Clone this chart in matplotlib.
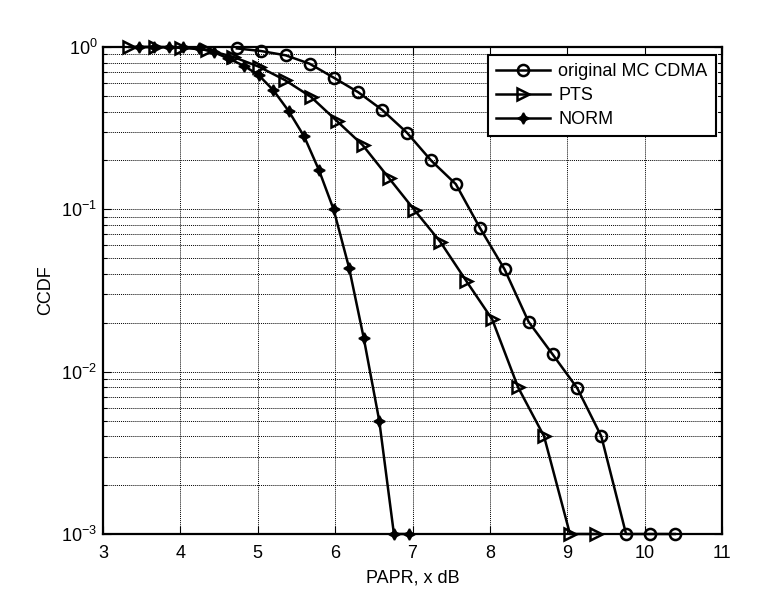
import numpy as np
import matplotlib.pyplot as plt
from matplotlib.ticker import FixedLocator, NullFormatter, LogLocator

plt.rcParams['font.family'] = ['Liberation Sans', 'DejaVu Sans']
plt.rcParams['mathtext.fontset'] = 'custom'
plt.rcParams['mathtext.rm'] = 'Liberation Sans'
plt.rcParams['mathtext.it'] = 'Liberation Sans'

# original MC CDMA
papr_orig = [4.73, 5.04, 5.36, 5.67, 5.99, 6.30, 6.61, 6.93, 7.24, 7.56,
             7.87, 8.19, 8.50, 8.81, 9.13, 9.44, 9.76, 10.07, 10.39]
ccdf_orig = [0.98, 0.945, 0.889, 0.789, 0.644, 0.526, 0.409, 0.296, 0.200, 0.143,
             0.077, 0.0427, 0.0203, 0.0128, 0.0079, 0.0040, 0.001, 0.001, 0.001]

# PTS
papr_pts = [3.34, 3.675, 4.01, 4.345, 4.68, 5.015, 5.35, 5.685, 6.02, 6.355,
            6.69, 7.025, 7.36, 7.695, 8.03, 8.365, 8.70, 9.035, 9.37]
ccdf_pts = [1.0, 1.0, 0.99, 0.96, 0.87, 0.756, 0.626, 0.494, 0.351, 0.249,
            0.157, 0.099, 0.063, 0.0362, 0.021, 0.008, 0.004, 0.001, 0.001]

# NORM
papr_norm = [3.46, 3.66, 3.85, 4.04, 4.24, 4.43, 4.62, 4.82, 5.01, 5.20,
             5.40, 5.60, 5.79, 5.98, 6.18, 6.37, 6.57, 6.76, 6.95]
ccdf_norm = [1.0, 1.0, 1.0, 0.995, 0.98, 0.93, 0.85, 0.767, 0.672, 0.543,
             0.403, 0.281, 0.175, 0.100, 0.0437, 0.0161, 0.00499, 0.001, 0.001]

x_ticks = [3, 4, 5, 6, 7, 8, 9, 10, 11]
y_ticks = [1e-3, 1e-2, 1e-1, 1e0]
y_tick_labels = ['$10^{-3}$', '$10^{-2}$', '$10^{-1}$', '$10^{0}$']

fig = plt.figure(figsize=(7.64, 6.06), dpi=100)
ax = fig.add_axes([103 / 764, 1 - 534 / 606, 619 / 764, 487 / 606])

ax.semilogy(papr_orig, ccdf_orig, '-o', color='black', lw=1.8, ms=8,
            mfc='none', mew=1.8, label='original MC CDMA', clip_on=False, zorder=3)
ax.semilogy(papr_pts, ccdf_pts, '->', color='black', lw=1.8, ms=9,
            mfc='none', mew=1.8, label='PTS', clip_on=False, zorder=3)
ax.semilogy(papr_norm, ccdf_norm, '-', marker=(4, 1, 0), color='black', lw=1.8, ms=8,
            mfc='black', mew=1.2, label='NORM', clip_on=False, zorder=3)

ax.set_xlim(3, 11)
ax.set_ylim(1e-3, 1)
ax.xaxis.set_major_locator(FixedLocator(x_ticks))
ax.yaxis.set_major_locator(FixedLocator(y_ticks))
ax.set_yticklabels(y_tick_labels)
ax.yaxis.set_minor_locator(LogLocator(base=10, subs=np.arange(2, 10), numticks=20))
ax.yaxis.set_minor_formatter(NullFormatter())

ax.tick_params(which='both', direction='in', top=True, right=True, labelsize=13,
               color='black', width=0.8)
ax.tick_params(which='major', length=6)
ax.tick_params(which='minor', length=3)
ax.tick_params(axis='x', which='major', pad=8)
ax.tick_params(axis='y', which='major', pad=4)

ax.grid(True, which='major', axis='both', color='black', linestyle=(0, (1, 1)), lw=0.7)
ax.grid(True, which='minor', axis='y', color='black', linestyle=(0, (1, 1)), lw=0.7)

for s in ax.spines.values():
    s.set_linewidth(1.6)

ax.set_xlabel('PAPR, x dB', fontsize=13, labelpad=5)
ax.set_ylabel('CCDF', fontsize=13, labelpad=5)

leg = ax.legend(loc='upper right', bbox_to_anchor=(0.990, 0.984), borderaxespad=0,
                fontsize=13, fancybox=False, framealpha=1, edgecolor='black',
                handlelength=3.0, handletextpad=0.45, labelspacing=0.4,
                borderpad=0.45)
leg.get_frame().set_linewidth(1.5)

fig.savefig('out.png', dpi=100)
